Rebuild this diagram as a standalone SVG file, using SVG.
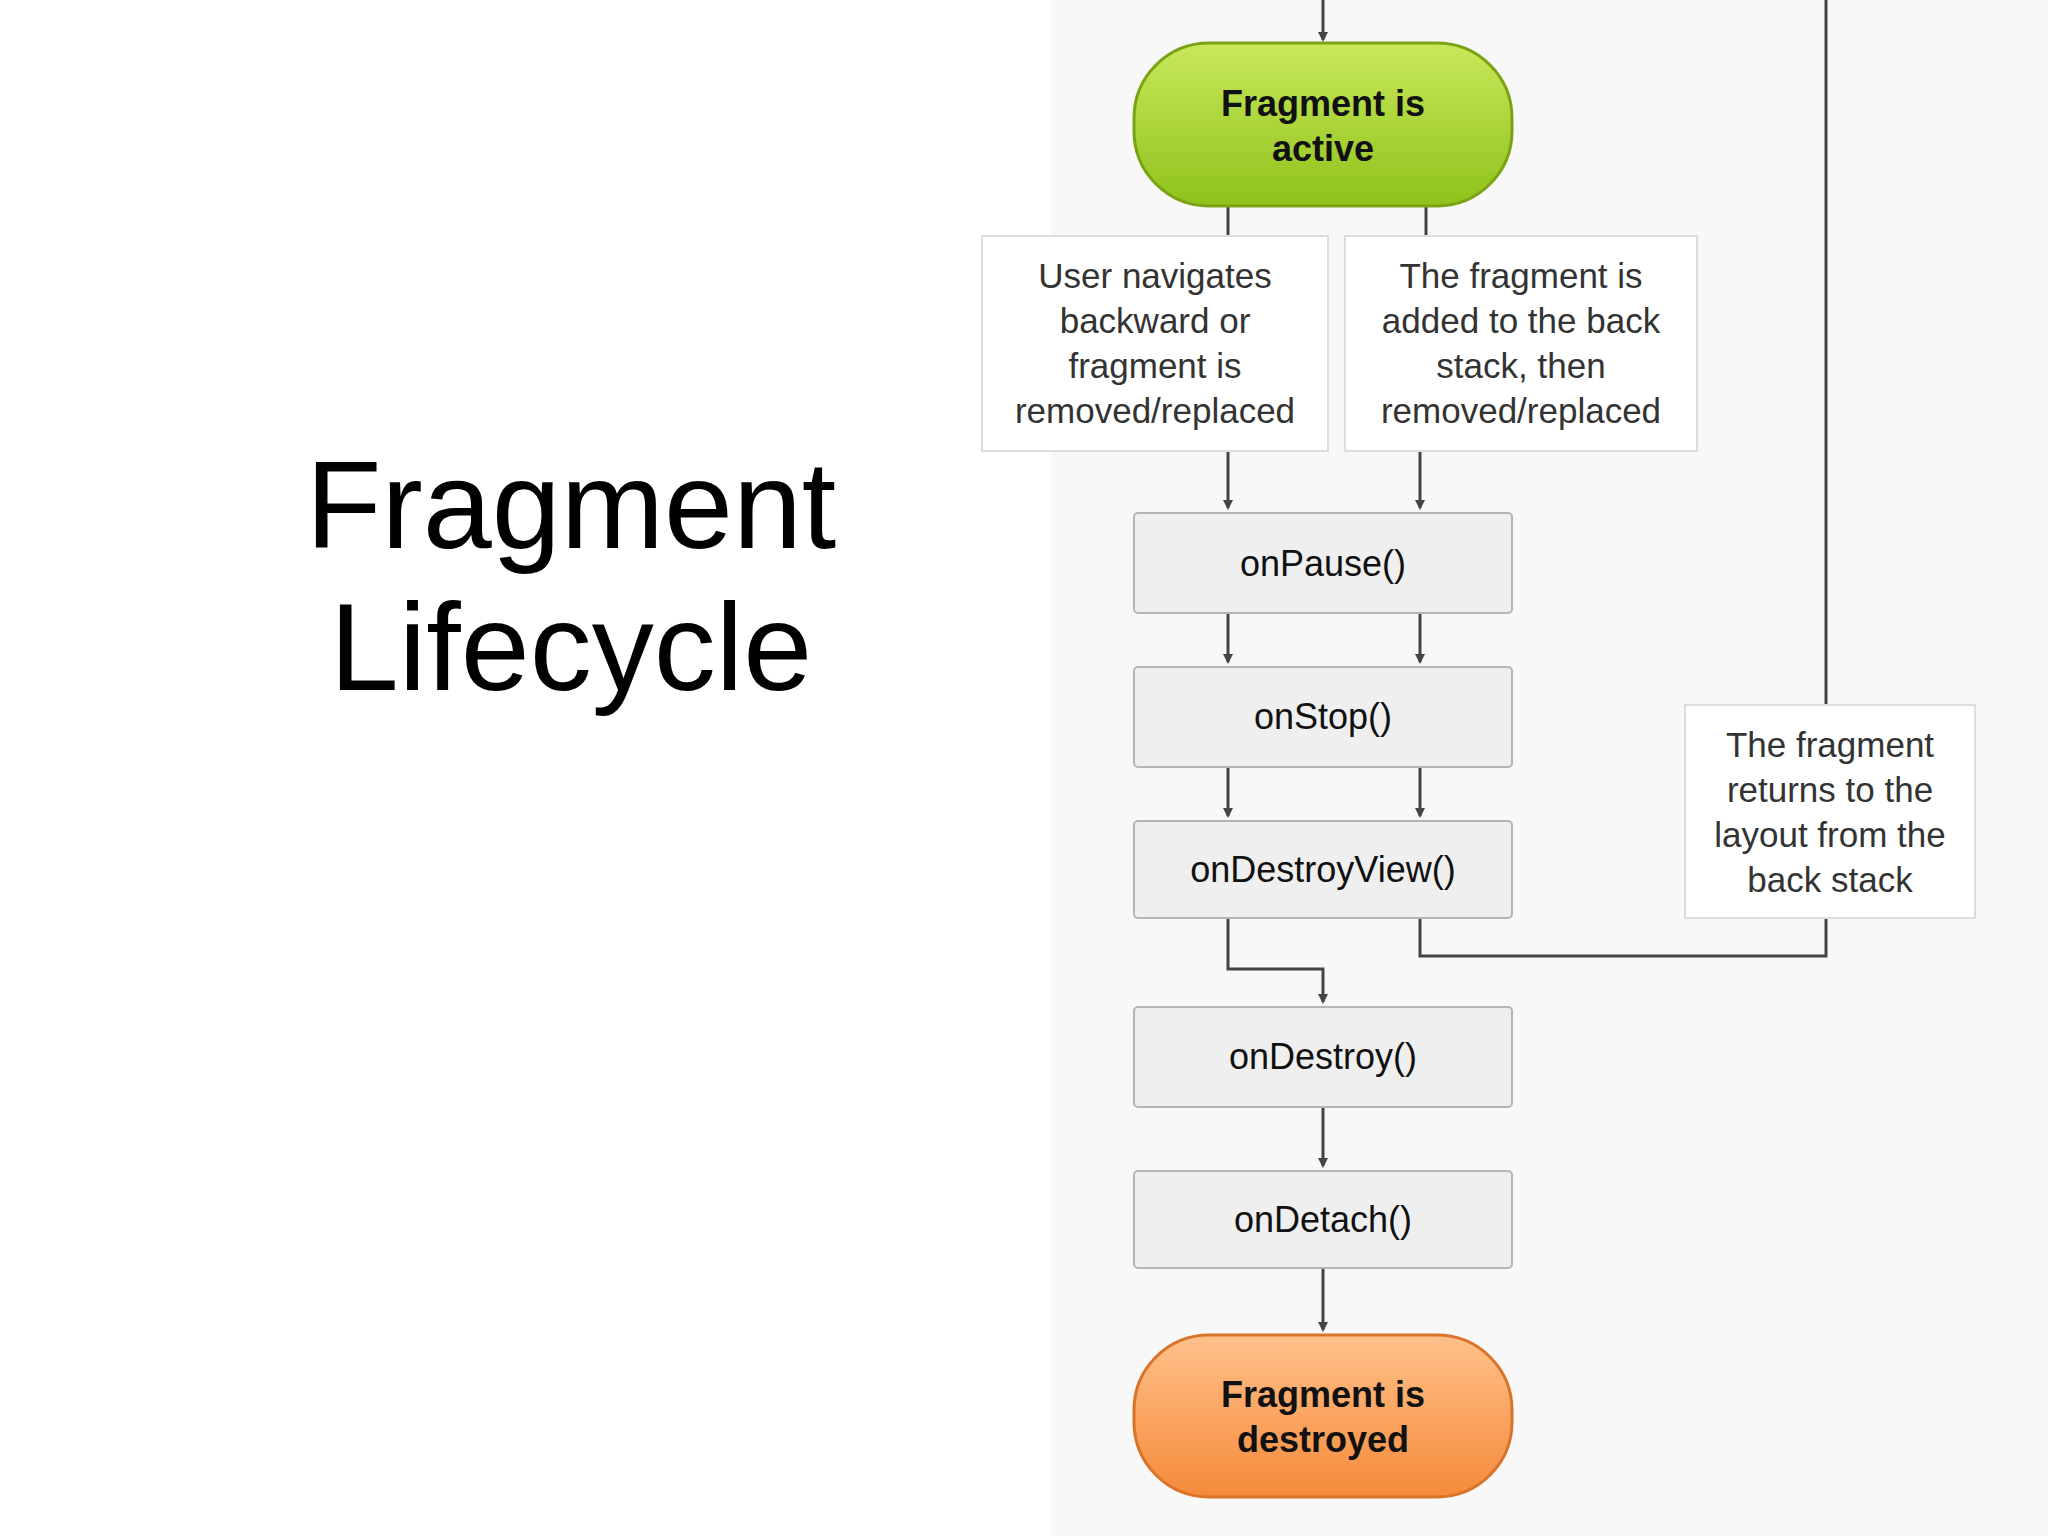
<svg xmlns="http://www.w3.org/2000/svg" width="2048" height="1536" viewBox="0 0 2048 1536">
<style>
.n{fill:#efefef;stroke:#b5b5b5;stroke-width:2}
.nt{font-family:"Liberation Sans",Arial,sans-serif;font-size:36px;fill:#111;text-anchor:middle}
.bt{font-family:"Liberation Sans",Arial,sans-serif;font-size:36px;font-weight:bold;fill:#111;text-anchor:middle}
.lb{fill:#fff;stroke:#ddd;stroke-width:2}
.lt{font-family:"Liberation Sans",Arial,sans-serif;font-size:35px;fill:#333;text-anchor:middle}
.c{fill:none;stroke:#444;stroke-width:3}
</style>
<defs>
<marker id="a" markerWidth="10" markerHeight="10" refX="8" refY="5" orient="auto" markerUnits="userSpaceOnUse" viewBox="0 0 10 10"><path d="M0,0 L10,5 L0,10 z" fill="#444"/></marker>
<linearGradient id="g" x1="0" y1="0" x2="0" y2="1"><stop offset="0" stop-color="#c8e85a"/><stop offset="1" stop-color="#8fc21c"/></linearGradient>
<linearGradient id="o" x1="0" y1="0" x2="0" y2="1"><stop offset="0" stop-color="#ffc08a"/><stop offset="1" stop-color="#f58a3a"/></linearGradient>
</defs>
<rect width="2048" height="1536" fill="#fff"/>
<rect x="1051" y="0" width="997" height="1536" fill="#f8f8f8"/>
<text x="571" y="548" font-family="Helvetica,'Liberation Sans',Arial,sans-serif" font-size="124" font-weight="300" text-anchor="middle" fill="#000">Fragment</text>
<text x="571" y="690" font-family="Helvetica,'Liberation Sans',Arial,sans-serif" font-size="124" font-weight="300" text-anchor="middle" fill="#000">Lifecycle</text>
<g id="connectors">
<path class="c" d="M1323,0 V40" marker-end="url(#a)"/>
<path class="c" d="M1228,206 V236"/>
<path class="c" d="M1426,206 V236"/>
<path class="c" d="M1228,451 V508" marker-end="url(#a)"/>
<path class="c" d="M1420,451 V508" marker-end="url(#a)"/>
<path class="c" d="M1228,613 V662" marker-end="url(#a)"/>
<path class="c" d="M1420,613 V662" marker-end="url(#a)"/>
<path class="c" d="M1228,767 V816" marker-end="url(#a)"/>
<path class="c" d="M1420,767 V816" marker-end="url(#a)"/>
<path class="c" d="M1228,918 V969 H1323 V1002" marker-end="url(#a)"/>
<path class="c" d="M1420,918 V956 H1826 V918"/>
<path class="c" d="M1826,705 V0"/>
<path class="c" d="M1323,1107 V1166" marker-end="url(#a)"/>
<path class="c" d="M1323,1268 V1330" marker-end="url(#a)"/>
</g>
<g id="active"><rect x="1134" y="43" width="378" height="163" rx="75" fill="url(#g)" stroke="#7aa314" stroke-width="3"/><text class="bt" x="1323" y="116">Fragment is</text><text class="bt" x="1323" y="161">active</text></g>
<g id="l1"><rect class="lb" x="982" y="236" width="346" height="215"/><text class="lt" x="1155" y="288">User navigates</text><text class="lt" x="1155" y="333">backward or</text><text class="lt" x="1155" y="378">fragment is</text><text class="lt" x="1155" y="423">removed/replaced</text></g>
<g id="l2"><rect class="lb" x="1345" y="236" width="352" height="215"/><text class="lt" x="1521" y="288">The fragment is</text><text class="lt" x="1521" y="333">added to the back</text><text class="lt" x="1521" y="378">stack, then</text><text class="lt" x="1521" y="423">removed/replaced</text></g>
<g id="l3"><rect class="lb" x="1685" y="705" width="290" height="213"/><text class="lt" x="1830" y="757">The fragment</text><text class="lt" x="1830" y="802">returns to the</text><text class="lt" x="1830" y="847">layout from the</text><text class="lt" x="1830" y="892">back stack</text></g>
<g id="pause"><rect class="n" x="1134" y="513" width="378" height="100" rx="4"/><text class="nt" x="1323" y="576">onPause()</text></g>
<g id="stop"><rect class="n" x="1134" y="667" width="378" height="100" rx="4"/><text class="nt" x="1323" y="729">onStop()</text></g>
<g id="destroyview"><rect class="n" x="1134" y="821" width="378" height="97" rx="4"/><text class="nt" x="1323" y="882">onDestroyView()</text></g>
<g id="destroy"><rect class="n" x="1134" y="1007" width="378" height="100" rx="4"/><text class="nt" x="1323" y="1069">onDestroy()</text></g>
<g id="detach"><rect class="n" x="1134" y="1171" width="378" height="97" rx="4"/><text class="nt" x="1323" y="1232">onDetach()</text></g>
<g id="destroyed"><rect x="1134" y="1335" width="378" height="162" rx="75" fill="url(#o)" stroke="#d9732a" stroke-width="3"/><text class="bt" x="1323" y="1407">Fragment is</text><text class="bt" x="1323" y="1452">destroyed</text></g>
</svg>
